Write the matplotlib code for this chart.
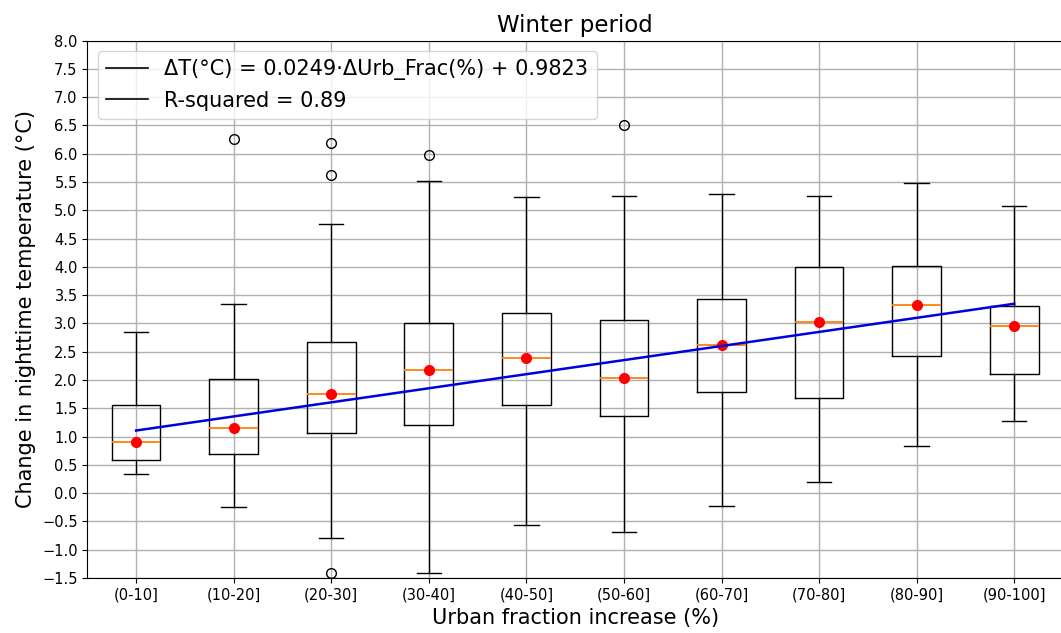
import matplotlib
matplotlib.use("Agg")
import matplotlib.pyplot as plt

# Box statistics (°C)
categories = ["(0-10]", "(10-20]", "(20-30]", "(30-40]", "(40-50]",
              "(50-60]", "(60-70]", "(70-80]", "(80-90]", "(90-100]"]
midpoints = [5, 15, 25, 35, 45, 55, 65, 75, 85, 95]
whisker_low = [0.34, -0.25, -0.79, -1.42, -0.56, -0.69, -0.22, 0.19, 0.84, 1.28]
q1 = [0.59, 0.70, 1.06, 1.20, 1.55, 1.36, 1.78, 1.69, 2.43, 2.10]
medians = [0.90, 1.15, 1.76, 2.18, 2.38, 2.03, 2.61, 3.02, 3.33, 2.96]
q3 = [1.55, 2.01, 2.68, 3.01, 3.18, 3.06, 3.44, 4.00, 4.02, 3.31]
whisker_high = [2.85, 3.35, 4.75, 5.52, 5.23, 5.25, 5.28, 5.25, 5.48, 5.08]
outliers = [[], [6.26], [6.19, 5.63, -1.42], [5.98], [], [6.51], [], [], [], []]

slope = 0.0249
intercept = 0.9823
r_squared = 0.89

stats = []
for i in range(len(categories)):
    stats.append({
        "label": categories[i],
        "whislo": whisker_low[i],
        "q1": q1[i],
        "med": medians[i],
        "q3": q3[i],
        "whishi": whisker_high[i],
        "fliers": outliers[i],
    })

fig = plt.figure(figsize=(10.61, 6.33), dpi=100)
ax = fig.add_axes([0.0823, 0.0869, 0.9196, 0.849])

positions = list(range(1, len(categories) + 1))
ax.bxp(stats, positions=positions, widths=0.5,
       flierprops=dict(marker="o", markersize=7, markerfacecolor="none",
                       markeredgecolor="black"),
       medianprops=dict(color="#ff7f0e", linewidth=1.3))

ax.plot(positions, medians, "o", color="red", markersize=7, zorder=4)

fit = [slope * m + intercept for m in midpoints]
ax.plot(positions, fit, color="#0000dd", linewidth=1.8, zorder=5)

ax.plot([], [], color="black", linewidth=1.2,
        label="ΔT(°C) = %.4f·ΔUrb_Frac(%%) + %.4f" % (slope, intercept))
ax.plot([], [], color="black", linewidth=1.2,
        label="R-squared = %.2f" % r_squared)
ax.legend(loc="upper left", fontsize=15)

ax.set_xlim(0.5, 10.5)
ax.set_ylim(-1.5, 8.0)
ax.set_yticks([-1.5 + 0.5 * k for k in range(20)])
ax.set_xticks(positions)
ax.set_xticklabels(categories)
ax.tick_params(labelsize=10.5)
ax.grid(True, color="#b0b0b0", linewidth=1)
ax.set_axisbelow(True)

ax.set_title("Winter period", fontsize=16.5)
ax.set_xlabel("Urban fraction increase (%)", fontsize=15)
ax.set_ylabel("Change in nighttime temperature (°C)", fontsize=15)

fig.savefig("out.png", dpi=100)
